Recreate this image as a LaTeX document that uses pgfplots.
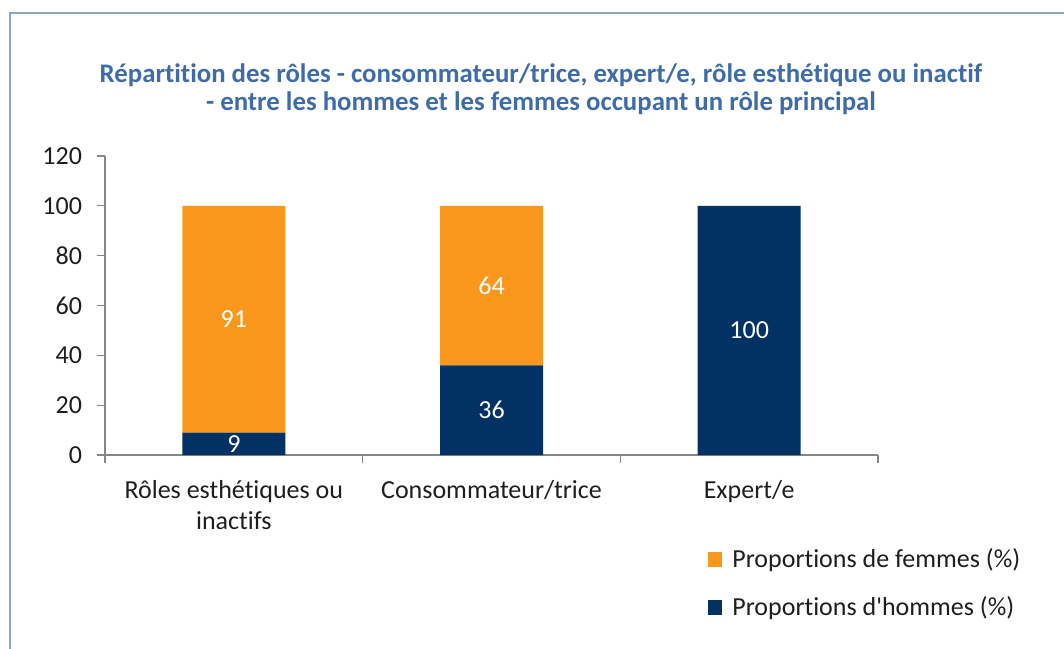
\documentclass[border=0pt]{standalone}
\usepackage{fontspec}
\setmainfont{Carlito}[Ligatures={NoCommon}]
\usepackage{pgfplots}
\pgfplotsset{compat=1.18}
\definecolor{titleblue}{RGB}{62,108,168}
\definecolor{femmes}{RGB}{250,152,30}
\definecolor{hommes}{RGB}{2,50,100}
\definecolor{framecol}{RGB}{140,165,200}
\definecolor{axisgray}{RGB}{134,134,134}
\definecolor{txt}{RGB}{30,30,30}
\begin{document}
\begin{tikzpicture}[x=1pt,y=1pt]
\useasboundingbox (0,0) rectangle (532,324);
\draw[framecol, line width=0.9pt] (5,-1) -- (5,317.5) -- (533,317.5);
\node[font=\fontsize{13.4}{14}\selectfont\bfseries, text=titleblue, align=center, inner sep=0pt] at (270.5,279.5)
 {Répartition des rôles - consommateur/trice, expert/e, rôle esthétique ou inactif\\- entre les hommes et les femmes occupant un rôle principal};
\begin{axis}[
  at={(52.5pt,96.5pt)}, anchor=south west,
  scale only axis, width=386.5pt, height=149.5pt,
  xmin=-0.5, xmax=2.5, ymin=0, ymax=120,
  ybar stacked, bar width=51.5pt,
  axis lines*=left,
  axis line style={draw=axisgray, line width=0.6pt},
  every tick/.style={draw=axisgray, line width=0.6pt},
  tick align=outside,
  xtick={0,1,2},
  xticklabels={{Rôles esthétiques ou\\inactifs},{Consommateur/trice},{Expert/e}},
  major x tick style={draw=none},
  minor xtick={-0.5,0.5,1.5,2.5},
  minor tick length=4pt,
  major tick length=4pt,
  ytick={0,20,40,60,80,100,120},
  /pgf/number format/assume math mode=true,
  tick label style={font=\fontsize{13}{15.5}\selectfont, text=txt},
  xticklabel style={align=center, yshift=-5pt},
  yticklabel style={xshift=-4pt},
  legend style={draw=none, fill=none, at={(0.78,-0.43)}, anchor=west,
    font=\fontsize{13}{15.5}\selectfont, text=txt, row sep=9pt,
    inner sep=0pt, outer sep=0pt,
    /tikz/every odd column/.append style={column sep=3pt}},
  legend cell align=left,
  reverse legend,
  legend image code/.code={\fill[#1] (0pt,-3.6pt) rectangle (7.2pt,3.6pt);},
]
\addplot[fill=hommes, draw=none] coordinates {(0,9) (1,36) (2,100)};
\addlegendentry{Proportions d\textquotesingle hommes (\%)}
\addplot[fill=femmes, draw=none] coordinates {(0,91) (1,64) (2,0)};
\addlegendentry{Proportions de femmes (\%)}
\end{axis}
\begin{axis}[
  at={(52.5pt,96.5pt)}, anchor=south west,
  scale only axis, width=386.5pt, height=149.5pt,
  xmin=-0.5, xmax=2.5, ymin=0, ymax=120,
  axis lines=none, ticks=none, clip=false,
]
\addplot[draw=none, mark=none, nodes near coords, point meta=explicit symbolic,
  every node near coord/.append style={anchor=center, text=white, font=\fontsize{13}{15.5}\selectfont}]
  coordinates {(0,4.5)[9] (0,54.5)[91] (1,18)[36] (1,68)[64] (2,50)[100]};
\end{axis}
\end{tikzpicture}
\end{document}
